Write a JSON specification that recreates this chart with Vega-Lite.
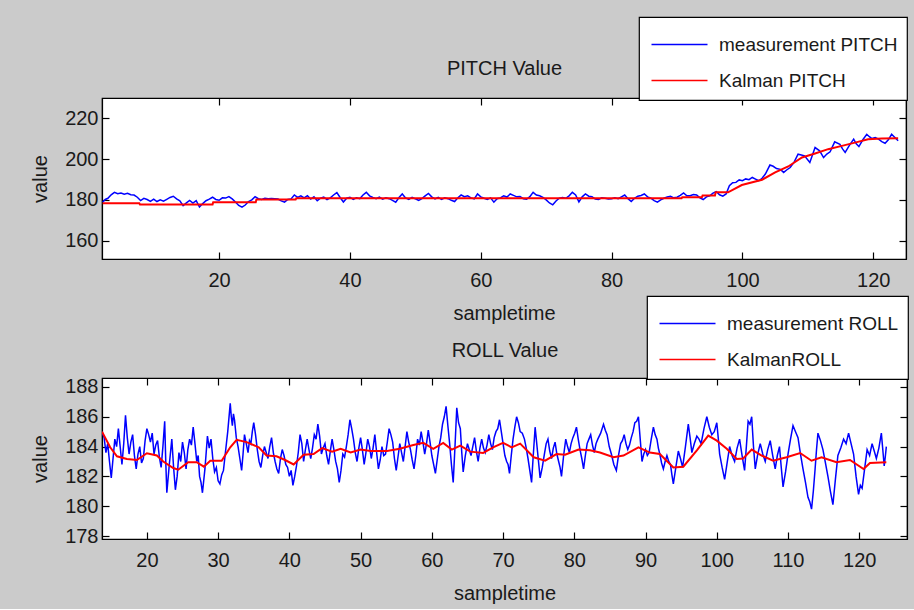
{
  "$schema": "https://vega.github.io/schema/vega-lite/v6.json",
  "background": "#cbcbcb",
  "padding": {"left": 30, "top": 15, "right": 5, "bottom": 5},
  "bounds": "flush",
  "spacing": 119,
  "config": {
    "font": "Liberation Sans",
    "view": {"fill": "white", "stroke": "black", "strokeWidth": 1.2},
    "axis": {"grid": false, "domainColor": "black", "domainWidth": 1.2, "tickColor": "black", "tickWidth": 1.2, "tickSize": -7, "labelFontSize": 20, "labelColor": "#1a1a1a", "titleFontSize": 20, "titleFontWeight": "normal", "titleColor": "#1a1a1a"},
    "axisX": {"labelPadding": 18, "titlePadding": 13},
    "axisY": {"labelPadding": 11, "titlePadding": 14},
    "legend": {"orient": "none", "fillColor": "white", "strokeColor": "black", "strokeWidth": 1.2, "padding": 9, "labelFontSize": 19, "labelColor": "#1a1a1a", "symbolType": "M-1.6,0H1.6", "symbolSize": 1225, "symbolStrokeWidth": 1.6, "symbolOffset": 13, "rowPadding": 7, "labelLimit": 400, "labelOffset": 21}
  },
  "resolve": {"scale": {"color": "independent"}, "legend": {"color": "independent"}},
  "datasets": {
    "pitchM": [
      {"t":2.2,"v":178.9},{"t":2.6,"v":180.2},{"t":3,"v":180.8},{"t":3.5,"v":182.5},{"t":4,"v":183.7},{"t":4.5,"v":183.0},{"t":5,"v":183.4},{"t":5.5,"v":182.8},{"t":6,"v":183.2},{"t":6.5,"v":182.5},{"t":7,"v":182.4},{"t":7.5,"v":181.3},{"t":8,"v":179.7},{"t":8.5,"v":180.8},{"t":9,"v":180.2},{"t":9.5,"v":179.3},{"t":10,"v":180.4},{"t":10.5,"v":179.2},{"t":11,"v":180.0},{"t":11.5,"v":179.4},{"t":12,"v":180.3},{"t":12.5,"v":181.2},{"t":13,"v":181.8},{"t":13.5,"v":180.5},{"t":14,"v":179.5},{"t":14.5,"v":177.2},{"t":15,"v":178.5},{"t":15.5,"v":179.7},{"t":16,"v":178.4},{"t":16.5,"v":179.6},{"t":17,"v":176.5},{"t":17.5,"v":178.2},{"t":18,"v":179.6},{"t":18.5,"v":180.4},{"t":19,"v":181.3},{"t":19.5,"v":180.2},{"t":20,"v":179.8},{"t":20.5,"v":181.0},{"t":21,"v":180.9},{"t":21.5,"v":181.6},{"t":22,"v":180.5},{"t":22.5,"v":179.0},{"t":23,"v":177.3},{"t":23.5,"v":176.4},{"t":24,"v":177.5},{"t":24.5,"v":179.2},{"t":25,"v":180.0},{"t":25.5,"v":181.6},{"t":26,"v":180.6},{"t":26.5,"v":180.2},{"t":27,"v":180.8},{"t":27.5,"v":180.6},{"t":28,"v":180.7},{"t":28.5,"v":180.6},{"t":29,"v":180.4},{"t":29.5,"v":179.5},{"t":30,"v":178.9},{"t":30.5,"v":180.2},{"t":31,"v":180.5},{"t":31.5,"v":182.4},{"t":32,"v":181.2},{"t":32.5,"v":182.0},{"t":33,"v":181.0},{"t":33.5,"v":182.1},{"t":34,"v":180.4},{"t":34.5,"v":181.5},{"t":35,"v":179.6},{"t":35.5,"v":180.8},{"t":36,"v":181.4},{"t":36.5,"v":180.1},{"t":37,"v":181.0},{"t":37.5,"v":182.4},{"t":38,"v":183.6},{"t":38.5,"v":181.2},{"t":39,"v":179.0},{"t":39.5,"v":180.8},{"t":40,"v":181.3},{"t":40.5,"v":180.2},{"t":41,"v":181.0},{"t":41.5,"v":180.6},{"t":42,"v":182.4},{"t":42.5,"v":183.7},{"t":43,"v":182.0},{"t":43.5,"v":181.2},{"t":44,"v":180.6},{"t":44.5,"v":181.4},{"t":45,"v":180.4},{"t":45.5,"v":181.0},{"t":46,"v":180.6},{"t":46.5,"v":179.8},{"t":47,"v":178.9},{"t":47.5,"v":181.2},{"t":48,"v":182.9},{"t":48.5,"v":181.0},{"t":49,"v":180.2},{"t":49.5,"v":181.2},{"t":50,"v":180.5},{"t":50.5,"v":179.8},{"t":51,"v":180.6},{"t":51.5,"v":182.0},{"t":52,"v":183.2},{"t":52.5,"v":181.5},{"t":53,"v":180.5},{"t":53.5,"v":181.2},{"t":54,"v":180.2},{"t":54.5,"v":181.0},{"t":55,"v":180.6},{"t":55.5,"v":179.8},{"t":56,"v":179.2},{"t":56.5,"v":181.0},{"t":57,"v":182.4},{"t":57.5,"v":181.6},{"t":58,"v":182.0},{"t":58.5,"v":181.0},{"t":59,"v":180.5},{"t":59.5,"v":182.9},{"t":60,"v":181.5},{"t":60.5,"v":180.8},{"t":61,"v":180.2},{"t":61.5,"v":181.0},{"t":62,"v":178.9},{"t":62.5,"v":180.6},{"t":63,"v":181.0},{"t":63.5,"v":182.0},{"t":64,"v":181.4},{"t":64.5,"v":182.9},{"t":65,"v":182.2},{"t":65.5,"v":181.5},{"t":66,"v":181.7},{"t":66.5,"v":180.6},{"t":67,"v":180.3},{"t":67.5,"v":181.6},{"t":68,"v":183.7},{"t":68.5,"v":182.4},{"t":69,"v":182.0},{"t":69.5,"v":181.2},{"t":70,"v":180.0},{"t":70.5,"v":178.5},{"t":71,"v":177.6},{"t":71.5,"v":179.5},{"t":72,"v":180.8},{"t":72.5,"v":181.2},{"t":73,"v":180.8},{"t":73.5,"v":182.0},{"t":74,"v":183.7},{"t":74.5,"v":182.4},{"t":75,"v":179.0},{"t":75.5,"v":181.5},{"t":76,"v":182.9},{"t":76.5,"v":181.8},{"t":77,"v":181.6},{"t":77.5,"v":180.4},{"t":78,"v":180.2},{"t":78.5,"v":181.0},{"t":79,"v":180.8},{"t":79.5,"v":180.4},{"t":80,"v":180.6},{"t":80.5,"v":181.0},{"t":81,"v":180.6},{"t":81.5,"v":181.5},{"t":82,"v":182.4},{"t":82.5,"v":180.6},{"t":83,"v":179.2},{"t":83.5,"v":180.8},{"t":84,"v":181.8},{"t":84.5,"v":182.2},{"t":85,"v":182.9},{"t":85.5,"v":181.5},{"t":86,"v":180.8},{"t":86.5,"v":179.6},{"t":87,"v":178.9},{"t":87.5,"v":180.0},{"t":88,"v":180.8},{"t":88.5,"v":181.4},{"t":89,"v":181.8},{"t":89.5,"v":181.0},{"t":90,"v":181.3},{"t":90.5,"v":182.2},{"t":91,"v":183.4},{"t":91.5,"v":182.0},{"t":92,"v":182.0},{"t":92.5,"v":182.6},{"t":93,"v":182.4},{"t":93.5,"v":181.0},{"t":94,"v":180.2},{"t":94.5,"v":181.5},{"t":95,"v":182.0},{"t":95.5,"v":183.3},{"t":96,"v":184.1},{"t":96.5,"v":182.5},{"t":97,"v":181.8},{"t":97.5,"v":182.9},{"t":98,"v":187.0},{"t":98.5,"v":188.4},{"t":99,"v":188.6},{"t":99.5,"v":189.8},{"t":100,"v":189.4},{"t":100.5,"v":190.3},{"t":101,"v":189.9},{"t":101.5,"v":191.0},{"t":102,"v":190.2},{"t":102.5,"v":189.4},{"t":103,"v":190.6},{"t":103.5,"v":192.7},{"t":104.2,"v":197.1},{"t":104.7,"v":196.5},{"t":105.2,"v":195.4},{"t":105.8,"v":195.0},{"t":106.3,"v":193.5},{"t":106.8,"v":194.8},{"t":107.3,"v":195.9},{"t":107.9,"v":198.5},{"t":108.5,"v":202.4},{"t":109,"v":202.0},{"t":109.5,"v":201.6},{"t":110.3,"v":198.4},{"t":110.7,"v":202.0},{"t":111.1,"v":205.7},{"t":111.8,"v":204.1},{"t":112.4,"v":200.8},{"t":112.9,"v":202.5},{"t":113.4,"v":203.6},{"t":114.1,"v":208.5},{"t":114.9,"v":207.3},{"t":115.3,"v":205.0},{"t":115.7,"v":203.3},{"t":116.3,"v":206.5},{"t":117,"v":209.8},{"t":117.4,"v":207.5},{"t":117.8,"v":206.2},{"t":118.4,"v":209.5},{"t":119,"v":212.2},{"t":119.4,"v":211.0},{"t":119.8,"v":210.1},{"t":120.3,"v":210.6},{"t":120.8,"v":209.8},{"t":121.3,"v":208.6},{"t":121.8,"v":207.8},{"t":122.3,"v":209.5},{"t":122.8,"v":212.2},{"t":123.3,"v":210.6},{"t":123.8,"v":209.0}
    ],
    "pitchK": [
      {"t":2.2,"v":178.4},{"t":7.8,"v":178.4},{"t":7.9,"v":177.8},{"t":19,"v":177.8},{"t":19.1,"v":178.9},{"t":25.6,"v":178.9},{"t":25.7,"v":180.2},{"t":31.7,"v":180.2},{"t":31.8,"v":180.8},{"t":90.7,"v":180.8},{"t":90.8,"v":181.3},{"t":93.8,"v":181.3},{"t":93.9,"v":182.1},{"t":95.8,"v":182.1},{"t":95.9,"v":183.7},{"t":97.8,"v":183.7},{"t":99.9,"v":187.3},{"t":103,"v":189.9},{"t":105,"v":193.5},{"t":107,"v":196.4},{"t":109.1,"v":200.8},{"t":111.1,"v":202.8},{"t":113.1,"v":204.9},{"t":115.2,"v":206.5},{"t":117.2,"v":208.1},{"t":119.2,"v":209.8},{"t":121.3,"v":210.1},{"t":123.8,"v":210.2}
    ],
    "rollM": [
      {"t":13.7,"v":185.0},{"t":13.85,"v":184.8},{"t":14.0,"v":184.6},{"t":14.25,"v":183.6},{"t":14.5,"v":184.2},{"t":14.75,"v":183.0},{"t":15.0,"v":181.9},{"t":15.25,"v":183.2},{"t":15.5,"v":184.5},{"t":15.75,"v":184.0},{"t":16.0,"v":185.2},{"t":16.25,"v":184.0},{"t":16.5,"v":182.8},{"t":16.75,"v":184.2},{"t":17.0,"v":186.1},{"t":17.25,"v":184.6},{"t":17.5,"v":183.5},{"t":17.75,"v":184.3},{"t":18.0,"v":184.8},{"t":18.25,"v":183.4},{"t":18.5,"v":182.5},{"t":18.75,"v":183.5},{"t":19.0,"v":184.0},{"t":19.25,"v":182.9},{"t":19.5,"v":183.2},{"t":19.75,"v":184.4},{"t":20.0,"v":185.2},{"t":20.25,"v":184.8},{"t":20.5,"v":184.3},{"t":20.75,"v":184.9},{"t":21.0,"v":183.5},{"t":21.25,"v":184.1},{"t":21.5,"v":184.4},{"t":21.75,"v":183.3},{"t":22.0,"v":182.6},{"t":22.25,"v":184.0},{"t":22.5,"v":185.7},{"t":22.65,"v":183.0},{"t":22.8,"v":180.9},{"t":23.15,"v":182.8},{"t":23.5,"v":184.5},{"t":23.75,"v":182.6},{"t":24.0,"v":181.1},{"t":24.25,"v":182.0},{"t":24.5,"v":183.6},{"t":24.75,"v":183.0},{"t":25.0,"v":184.3},{"t":25.25,"v":183.6},{"t":25.5,"v":182.5},{"t":25.75,"v":183.8},{"t":26.0,"v":184.5},{"t":26.25,"v":184.1},{"t":26.5,"v":185.3},{"t":26.75,"v":184.2},{"t":27.0,"v":183.0},{"t":27.2,"v":183.4},{"t":27.4,"v":182.0},{"t":27.6,"v":181.6},{"t":27.8,"v":180.9},{"t":28.15,"v":182.5},{"t":28.5,"v":184.7},{"t":28.75,"v":183.9},{"t":29.0,"v":184.5},{"t":29.25,"v":183.2},{"t":29.5,"v":182.3},{"t":29.75,"v":182.6},{"t":30.0,"v":181.7},{"t":30.25,"v":181.5},{"t":30.5,"v":182.1},{"t":30.75,"v":182.4},{"t":31.0,"v":183.5},{"t":31.35,"v":185.0},{"t":31.7,"v":186.9},{"t":31.85,"v":186.0},{"t":32.0,"v":185.4},{"t":32.15,"v":186.2},{"t":32.3,"v":185.8},{"t":32.55,"v":184.6},{"t":32.8,"v":184.0},{"t":33.05,"v":183.2},{"t":33.3,"v":182.4},{"t":33.5,"v":183.5},{"t":33.7,"v":184.8},{"t":33.95,"v":184.2},{"t":34.2,"v":183.6},{"t":34.4,"v":184.4},{"t":34.6,"v":184.2},{"t":34.8,"v":185.0},{"t":35.0,"v":185.6},{"t":35.25,"v":184.8},{"t":35.5,"v":183.8},{"t":35.75,"v":183.0},{"t":36.0,"v":182.6},{"t":36.25,"v":183.4},{"t":36.5,"v":184.0},{"t":36.75,"v":183.6},{"t":37.0,"v":183.2},{"t":37.25,"v":184.0},{"t":37.5,"v":184.6},{"t":37.75,"v":183.6},{"t":38.0,"v":183.0},{"t":38.25,"v":182.5},{"t":38.5,"v":182.2},{"t":38.75,"v":183.2},{"t":39.0,"v":183.8},{"t":39.25,"v":183.4},{"t":39.5,"v":182.8},{"t":39.75,"v":182.6},{"t":40.0,"v":182.0},{"t":40.25,"v":182.4},{"t":40.5,"v":181.4},{"t":40.75,"v":182.0},{"t":41.0,"v":182.7},{"t":41.25,"v":183.6},{"t":41.5,"v":184.8},{"t":41.75,"v":184.2},{"t":42.0,"v":183.0},{"t":42.25,"v":183.8},{"t":42.5,"v":184.5},{"t":42.75,"v":183.8},{"t":43.0,"v":183.2},{"t":43.25,"v":183.9},{"t":43.5,"v":184.8},{"t":43.75,"v":184.5},{"t":44.0,"v":185.5},{"t":44.25,"v":184.7},{"t":44.5,"v":183.5},{"t":44.75,"v":183.9},{"t":45.0,"v":184.2},{"t":45.25,"v":183.4},{"t":45.5,"v":182.8},{"t":45.75,"v":183.7},{"t":46.0,"v":184.5},{"t":46.25,"v":183.8},{"t":46.5,"v":183.0},{"t":46.75,"v":182.5},{"t":47.0,"v":181.6},{"t":47.25,"v":182.4},{"t":47.5,"v":183.5},{"t":47.75,"v":183.3},{"t":48.0,"v":184.0},{"t":48.25,"v":184.8},{"t":48.5,"v":185.8},{"t":48.75,"v":185.2},{"t":49.0,"v":184.5},{"t":49.25,"v":183.6},{"t":49.5,"v":183.0},{"t":49.75,"v":183.9},{"t":50.0,"v":184.6},{"t":50.25,"v":183.8},{"t":50.5,"v":182.8},{"t":50.75,"v":183.6},{"t":51.0,"v":184.5},{"t":51.25,"v":184.0},{"t":51.5,"v":183.2},{"t":51.75,"v":183.9},{"t":52.0,"v":184.8},{"t":52.25,"v":183.6},{"t":52.5,"v":182.5},{"t":52.75,"v":183.1},{"t":53.0,"v":184.0},{"t":53.25,"v":183.4},{"t":53.5,"v":183.5},{"t":53.75,"v":184.3},{"t":54.0,"v":185.2},{"t":54.25,"v":184.8},{"t":54.5,"v":184.3},{"t":54.75,"v":183.2},{"t":55.0,"v":182.4},{"t":55.25,"v":183.3},{"t":55.5,"v":184.2},{"t":55.75,"v":183.6},{"t":56.0,"v":183.0},{"t":56.25,"v":184.0},{"t":56.5,"v":185.0},{"t":56.75,"v":184.3},{"t":57.0,"v":183.8},{"t":57.25,"v":183.1},{"t":57.5,"v":182.5},{"t":57.75,"v":183.4},{"t":58.0,"v":184.5},{"t":58.25,"v":184.1},{"t":58.5,"v":185.0},{"t":58.75,"v":184.3},{"t":59.0,"v":183.5},{"t":59.25,"v":184.2},{"t":59.5,"v":185.1},{"t":59.75,"v":184.3},{"t":60.0,"v":183.4},{"t":60.25,"v":182.8},{"t":60.5,"v":182.2},{"t":60.75,"v":183.1},{"t":61.0,"v":184.0},{"t":61.25,"v":184.6},{"t":61.5,"v":185.5},{"t":61.75,"v":186.0},{"t":62.0,"v":186.7},{"t":62.25,"v":185.4},{"t":62.5,"v":184.2},{"t":62.75,"v":182.8},{"t":63.0,"v":181.6},{"t":63.25,"v":184.0},{"t":63.5,"v":186.6},{"t":63.75,"v":185.6},{"t":64.0,"v":185.2},{"t":64.2,"v":183.6},{"t":64.4,"v":182.3},{"t":64.7,"v":183.4},{"t":65.0,"v":184.2},{"t":65.25,"v":183.8},{"t":65.5,"v":183.4},{"t":65.75,"v":184.0},{"t":66.0,"v":184.6},{"t":66.25,"v":183.7},{"t":66.5,"v":183.0},{"t":66.75,"v":183.9},{"t":67.0,"v":184.5},{"t":67.25,"v":183.9},{"t":67.5,"v":183.6},{"t":67.75,"v":184.1},{"t":68.0,"v":184.8},{"t":68.25,"v":184.2},{"t":68.5,"v":183.8},{"t":68.75,"v":184.6},{"t":69.0,"v":185.0},{"t":69.25,"v":185.2},{"t":69.5,"v":185.8},{"t":69.75,"v":185.0},{"t":70.0,"v":184.2},{"t":70.25,"v":183.4},{"t":70.5,"v":183.0},{"t":70.7,"v":182.8},{"t":70.9,"v":182.2},{"t":71.15,"v":183.4},{"t":71.4,"v":184.5},{"t":71.65,"v":185.3},{"t":71.9,"v":186.0},{"t":72.15,"v":185.6},{"t":72.4,"v":185.0},{"t":72.7,"v":184.9},{"t":73.0,"v":184.5},{"t":73.25,"v":183.9},{"t":73.5,"v":183.2},{"t":73.75,"v":182.4},{"t":74.0,"v":181.6},{"t":74.25,"v":183.5},{"t":74.5,"v":185.3},{"t":74.85,"v":183.6},{"t":75.2,"v":181.9},{"t":75.5,"v":182.6},{"t":75.8,"v":183.5},{"t":76.05,"v":184.2},{"t":76.3,"v":184.5},{"t":76.55,"v":183.7},{"t":76.8,"v":183.2},{"t":77.05,"v":183.9},{"t":77.3,"v":184.3},{"t":77.55,"v":183.5},{"t":77.8,"v":183.0},{"t":78.0,"v":182.6},{"t":78.2,"v":182.0},{"t":78.5,"v":183.4},{"t":78.8,"v":184.5},{"t":79.05,"v":184.0},{"t":79.3,"v":183.6},{"t":79.55,"v":184.2},{"t":79.8,"v":184.6},{"t":80.05,"v":184.9},{"t":80.3,"v":185.3},{"t":80.55,"v":184.5},{"t":80.8,"v":183.8},{"t":81.05,"v":183.2},{"t":81.3,"v":182.5},{"t":81.55,"v":183.4},{"t":81.8,"v":184.2},{"t":82.05,"v":184.5},{"t":82.3,"v":184.8},{"t":82.55,"v":184.1},{"t":82.8,"v":183.6},{"t":83.05,"v":184.2},{"t":83.3,"v":184.5},{"t":83.7,"v":184.9},{"t":84.1,"v":185.5},{"t":84.35,"v":185.1},{"t":84.6,"v":184.8},{"t":84.9,"v":184.0},{"t":85.2,"v":183.5},{"t":85.55,"v":182.8},{"t":85.9,"v":182.4},{"t":86.2,"v":183.4},{"t":86.5,"v":184.2},{"t":86.75,"v":184.4},{"t":87.0,"v":184.8},{"t":87.25,"v":184.2},{"t":87.5,"v":183.8},{"t":87.75,"v":184.1},{"t":88.0,"v":184.6},{"t":88.25,"v":185.0},{"t":88.5,"v":185.6},{"t":88.75,"v":185.7},{"t":89.0,"v":186.0},{"t":89.25,"v":184.5},{"t":89.5,"v":183.0},{"t":89.75,"v":183.5},{"t":90.0,"v":183.8},{"t":90.25,"v":183.4},{"t":90.5,"v":183.6},{"t":90.8,"v":184.5},{"t":91.1,"v":185.3},{"t":91.35,"v":184.8},{"t":91.6,"v":184.5},{"t":91.8,"v":183.9},{"t":92.0,"v":183.5},{"t":92.25,"v":182.9},{"t":92.5,"v":182.5},{"t":92.75,"v":183.0},{"t":93.0,"v":183.4},{"t":93.25,"v":183.0},{"t":93.5,"v":182.8},{"t":93.7,"v":182.1},{"t":93.9,"v":181.5},{"t":94.25,"v":182.6},{"t":94.6,"v":183.7},{"t":94.9,"v":183.2},{"t":95.2,"v":182.6},{"t":95.6,"v":184.0},{"t":96.0,"v":185.5},{"t":96.25,"v":184.6},{"t":96.5,"v":183.6},{"t":96.85,"v":184.2},{"t":97.2,"v":184.7},{"t":97.5,"v":184.5},{"t":97.8,"v":184.2},{"t":98.2,"v":185.2},{"t":98.6,"v":186.0},{"t":98.95,"v":185.3},{"t":99.3,"v":184.8},{"t":99.65,"v":185.0},{"t":100.0,"v":185.6},{"t":100.2,"v":184.6},{"t":100.4,"v":183.5},{"t":100.75,"v":182.6},{"t":101.1,"v":181.8},{"t":101.45,"v":182.9},{"t":101.8,"v":184.0},{"t":102.15,"v":183.4},{"t":102.5,"v":183.0},{"t":102.85,"v":183.9},{"t":103.2,"v":184.5},{"t":103.55,"v":183.4},{"t":103.9,"v":182.4},{"t":104.15,"v":184.0},{"t":104.4,"v":185.7},{"t":104.65,"v":185.5},{"t":104.9,"v":186.0},{"t":105.15,"v":184.0},{"t":105.4,"v":182.5},{"t":105.75,"v":183.5},{"t":106.1,"v":184.2},{"t":106.45,"v":183.5},{"t":106.8,"v":183.0},{"t":107.15,"v":183.8},{"t":107.5,"v":184.4},{"t":107.85,"v":183.4},{"t":108.2,"v":182.5},{"t":108.5,"v":183.4},{"t":108.8,"v":184.0},{"t":109.05,"v":182.6},{"t":109.3,"v":181.3},{"t":109.65,"v":182.3},{"t":110.0,"v":183.5},{"t":110.35,"v":184.5},{"t":110.7,"v":185.4},{"t":111.05,"v":185.0},{"t":111.4,"v":184.6},{"t":111.75,"v":183.5},{"t":112.1,"v":182.5},{"t":112.45,"v":181.6},{"t":112.8,"v":180.6},{"t":113.05,"v":180.3},{"t":113.3,"v":179.8},{"t":113.55,"v":181.0},{"t":113.8,"v":182.5},{"t":114.0,"v":183.8},{"t":114.2,"v":184.9},{"t":114.55,"v":184.4},{"t":114.9,"v":183.8},{"t":115.25,"v":182.9},{"t":115.6,"v":182.0},{"t":115.95,"v":181.0},{"t":116.3,"v":180.1},{"t":116.65,"v":181.8},{"t":117.0,"v":183.4},{"t":117.4,"v":183.9},{"t":117.8,"v":184.5},{"t":118.15,"v":184.2},{"t":118.5,"v":184.9},{"t":118.85,"v":184.2},{"t":119.2,"v":183.5},{"t":119.55,"v":182.0},{"t":119.9,"v":180.8},{"t":120.15,"v":181.4},{"t":120.4,"v":181.2},{"t":120.75,"v":182.5},{"t":121.1,"v":183.8},{"t":121.45,"v":183.4},{"t":121.8,"v":184.2},{"t":122.1,"v":183.7},{"t":122.4,"v":183.2},{"t":122.75,"v":183.9},{"t":123.1,"v":184.9},{"t":123.3,"v":183.8},{"t":123.5,"v":182.7},{"t":123.65,"v":183.3},{"t":123.8,"v":184.0}
    ],
    "rollK": [
      {"t":13.7,"v":185.0},{"t":14.85,"v":183.95},{"t":15.8,"v":183.35},{"t":17.2,"v":183.17},{"t":18.6,"v":183.1},{"t":20,"v":183.55},{"t":21.4,"v":183.4},{"t":22.3,"v":183.0},{"t":23.7,"v":182.56},{"t":24.4,"v":182.45},{"t":25.8,"v":182.95},{"t":27,"v":182.95},{"t":28,"v":182.65},{"t":28.9,"v":183.05},{"t":30.5,"v":183.05},{"t":31.7,"v":183.95},{"t":32.6,"v":184.45},{"t":34,"v":184.3},{"t":35.7,"v":183.95},{"t":36.8,"v":183.4},{"t":38.2,"v":183.35},{"t":39.4,"v":183.1},{"t":40.6,"v":182.8},{"t":42,"v":183.45},{"t":43.4,"v":183.5},{"t":44.6,"v":183.9},{"t":46,"v":183.65},{"t":47.2,"v":183.85},{"t":48.6,"v":183.6},{"t":50,"v":183.8},{"t":51.4,"v":183.7},{"t":53.7,"v":183.7},{"t":55.5,"v":183.85},{"t":57.4,"v":184.1},{"t":58.8,"v":184.25},{"t":60.2,"v":183.85},{"t":61.6,"v":184.25},{"t":62.8,"v":183.8},{"t":64,"v":184.07},{"t":65.4,"v":183.66},{"t":67.2,"v":183.57},{"t":68.6,"v":183.95},{"t":70,"v":184.25},{"t":71.2,"v":183.95},{"t":72.4,"v":184.2},{"t":74.3,"v":183.28},{"t":75.9,"v":183.05},{"t":77.5,"v":183.5},{"t":78.7,"v":183.45},{"t":80.6,"v":183.8},{"t":82.2,"v":183.75},{"t":83.6,"v":183.6},{"t":85.5,"v":183.28},{"t":86.9,"v":183.4},{"t":89,"v":183.95},{"t":90.6,"v":183.6},{"t":92,"v":183.5},{"t":93.9,"v":182.6},{"t":95.3,"v":182.65},{"t":97.2,"v":183.75},{"t":98.8,"v":184.74},{"t":100,"v":184.4},{"t":101.4,"v":183.85},{"t":102.8,"v":183.17},{"t":103.7,"v":183.2},{"t":104.9,"v":183.8},{"t":106.3,"v":183.4},{"t":107.9,"v":183.05},{"t":109.8,"v":183.28},{"t":111.7,"v":183.57},{"t":113.3,"v":183.05},{"t":114.7,"v":183.28},{"t":116.8,"v":182.95},{"t":118.7,"v":183.1},{"t":120.6,"v":182.49},{"t":121.5,"v":182.9},{"t":123.8,"v":182.95}
    ]
  },
  "vconcat": [
    {
      "width": 804,
      "height": 161,
      "layer": [
        {
          "data": {"name": "pitchM"},
          "mark": {"type": "line", "strokeWidth": 1.5, "clip": true},
          "encoding": {
            "x": {"field": "t", "type": "quantitative", "scale": {"domain": [2.1, 125], "nice": false, "zero": false}, "axis": {"values": [20, 40, 60, 80, 100, 120], "title": "sampletime"}},
            "y": {"field": "v", "type": "quantitative", "scale": {"domain": [151, 230], "nice": false, "zero": false}, "axis": {"values": [160, 180, 200, 220], "title": "value"}},
            "color": {"datum": "measurement PITCH", "scale": {"domain": ["measurement PITCH", "Kalman PITCH"], "range": ["#0000ff", "#ff0000"]}, "legend": {"title": null, "legendX": 537, "legendY": -81}}
          }
        },
        {
          "data": {"name": "pitchK"},
          "mark": {"type": "line", "strokeWidth": 2, "clip": true},
          "encoding": {
            "x": {"field": "t", "type": "quantitative", "axis": null},
            "y": {"field": "v", "type": "quantitative", "axis": null},
            "color": {"datum": "Kalman PITCH"}
          }
        },
        {
          "data": {"name": "pitchK"},
          "mark": {"type": "line", "opacity": 0},
          "encoding": {
            "x": {"field": "t", "type": "quantitative", "axis": {"orient": "top", "values": [20, 40, 60, 80, 100, 120], "labels": false, "title": "PITCH Value", "titlePadding": 19}},
            "y": {"field": "v", "type": "quantitative", "axis": {"orient": "right", "values": [160, 180, 200, 220], "labels": false, "title": null}}
          }
        }
      ],
      "resolve": {"axis": {"x": "independent", "y": "independent"}}
    },
    {
      "width": 805,
      "height": 161,
      "layer": [
        {
          "data": {"name": "rollM"},
          "mark": {"type": "line", "strokeWidth": 1.5, "clip": true},
          "encoding": {
            "x": {"field": "t", "type": "quantitative", "scale": {"domain": [13.7, 126.7], "nice": false, "zero": false}, "axis": {"values": [20, 30, 40, 50, 60, 70, 80, 90, 100, 110, 120], "title": "sampletime"}},
            "y": {"field": "v", "type": "quantitative", "scale": {"domain": [177.8, 188.6], "nice": false, "zero": false}, "axis": {"values": [178, 180, 182, 184, 186, 188], "title": "value"}},
            "color": {"datum": "measurement ROLL", "scale": {"domain": ["measurement ROLL", "KalmanROLL"], "range": ["#0000ff", "#ff0000"]}, "legend": {"title": null, "legendX": 545, "legendY": -82}}
          }
        },
        {
          "data": {"name": "rollK"},
          "mark": {"type": "line", "strokeWidth": 2, "clip": true},
          "encoding": {
            "x": {"field": "t", "type": "quantitative", "axis": null},
            "y": {"field": "v", "type": "quantitative", "axis": null},
            "color": {"datum": "KalmanROLL"}
          }
        },
        {
          "data": {"name": "rollK"},
          "mark": {"type": "line", "opacity": 0},
          "encoding": {
            "x": {"field": "t", "type": "quantitative", "axis": {"orient": "top", "values": [20, 30, 40, 50, 60, 70, 80, 90, 100, 110, 120], "labels": false, "title": "ROLL Value", "titlePadding": 17}},
            "y": {"field": "v", "type": "quantitative", "axis": {"orient": "right", "values": [178, 180, 182, 184, 186, 188], "labels": false, "title": null}}
          }
        }
      ],
      "resolve": {"axis": {"x": "independent", "y": "independent"}}
    }
  ]
}
